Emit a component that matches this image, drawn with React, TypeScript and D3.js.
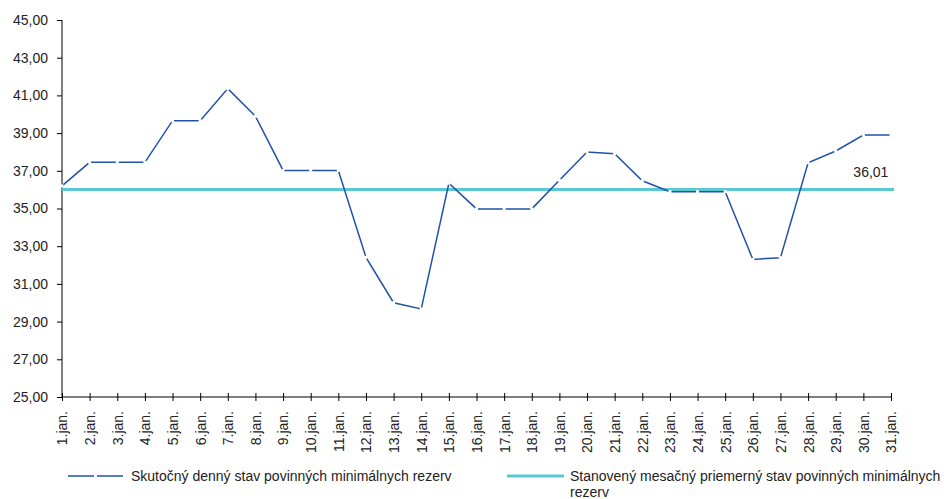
import React, { useEffect, useRef } from 'react';
import * as d3 from 'd3';

const days = d3.range(1, 32).map(d => d + '.jan.');
const actual = [
  36.2, 37.45, 37.45, 37.45, 39.66, 39.66, 41.36, 39.9, 37.02, 37.02, 37.02,
  32.41, 30.0, 29.67, 36.34, 34.98, 34.98, 34.98, 36.5, 38.0, 37.9, 36.47,
  35.89, 35.89, 35.89, 32.3, 32.39, 37.43, 38.05, 38.9, 38.9,
];
const required = 36.01;
const yTicks = d3.range(25, 46, 2);
const seriesNames = [
  'Skutočný denný stav povinných minimálnych rezerv',
  'Stanovený mesačný priemerný stav povinných minimálnych',
  'rezerv',
];

function App() {
  const svgRef = useRef<SVGSVGElement>(null);

  useEffect(() => {
    const svg = d3.select(svgRef.current);
    svg.selectAll('*').remove();

    const width = 944;
    const marginLeft = 62;
    const marginRight = 53;
    const marginTop = 20;
    const axisY = 397;
    const font = 'Liberation Sans, Arial, sans-serif';
    const fmt = (v: number) => d3.format('.2f')(v).replace('.', ',');

    const x = d3.scalePoint<string>()
      .domain(days)
      .range([marginLeft, width - marginRight]);

    const y = d3.scaleLinear()
      .domain([25, 45])
      .range([axisY, marginTop]);

    // y axis
    svg.append('g')
      .attr('transform', `translate(${marginLeft},0)`)
      .call(d3.axisLeft(y).tickValues(yTicks).tickSize(5).tickPadding(9)
        .tickFormat(d => fmt(d as number)))
      .call(g => g.select('.domain').attr('stroke', '#000').attr('d', `M0,${marginTop}V${axisY}`))
      .call(g => g.selectAll('.tick text').attr('font-size', 14).attr('fill', '#222').attr('font-family', font));

    // x axis
    const xg = svg.append('g')
      .attr('transform', `translate(0,${axisY})`)
      .call(d3.axisBottom(x).tickSize(0).tickPadding(0))
      .call(g => g.select('.domain').attr('stroke', '#000').attr('d', `M${marginLeft},0H${width - marginRight}`));
    xg.selectAll('.tick line')
      .attr('y1', -4).attr('y2', 4).attr('stroke', '#000');
    xg.selectAll('.tick text')
      .attr('font-size', 14)
      .attr('font-family', font)
      .attr('fill', '#222')
      .attr('transform', 'rotate(-90)')
      .attr('text-anchor', 'end')
      .attr('x', -14)
      .attr('y', 0)
      .attr('dy', '0.35em');

    // required level
    svg.append('line')
      .attr('x1', marginLeft)
      .attr('x2', width - marginRight + 3)
      .attr('y1', y(required))
      .attr('y2', y(required))
      .attr('stroke', '#5ac8d3')
      .attr('stroke-width', 3);

    svg.append('text')
      .attr('x', x('30.jan.')! - 10)
      .attr('y', y(required) - 12)
      .attr('font-size', 14)
      .attr('font-family', font)
      .attr('fill', '#222')
      .text(fmt(required));

    // actual line
    const line = d3.line<number>()
      .x((d, i) => x(days[i])!)
      .y(d => y(d));

    svg.append('path')
      .datum(actual)
      .attr('fill', 'none')
      .attr('stroke', '#2152a8')
      .attr('stroke-width', 1.5)
      .attr('d', line);

    svg.append('g')
      .selectAll('rect')
      .data(actual)
      .join('rect')
      .attr('x', (d, i) => x(days[i])! - 1.5)
      .attr('y', d => y(d) - 1.5)
      .attr('width', 3)
      .attr('height', 3)
      .attr('fill', '#fff');

    // legend
    const leg = svg.append('g').attr('font-family', font).attr('font-size', 14).attr('fill', '#222');
    leg.append('line').attr('x1', 68).attr('x2', 123).attr('y1', 476).attr('y2', 476)
      .attr('stroke', '#2152a8').attr('stroke-width', 1.5);
    leg.append('rect').attr('x', 94).attr('y', 474.5).attr('width', 3).attr('height', 3).attr('fill', '#fff');
    leg.append('text').attr('x', 131).attr('y', 481).text(seriesNames[0]);

    leg.append('line').attr('x1', 507).attr('x2', 564).attr('y1', 476).attr('y2', 476)
      .attr('stroke', '#5ac8d3').attr('stroke-width', 3);
    leg.append('text').attr('x', 570).attr('y', 481).text(seriesNames[1]);
    leg.append('text').attr('x', 570).attr('y', 497).text(seriesNames[2]);
  }, []);

  return (
    <svg ref={svgRef} width={944} height={499} style={{ position: 'absolute', left: 0, top: 0 }}></svg>
  );
}

export default App;
